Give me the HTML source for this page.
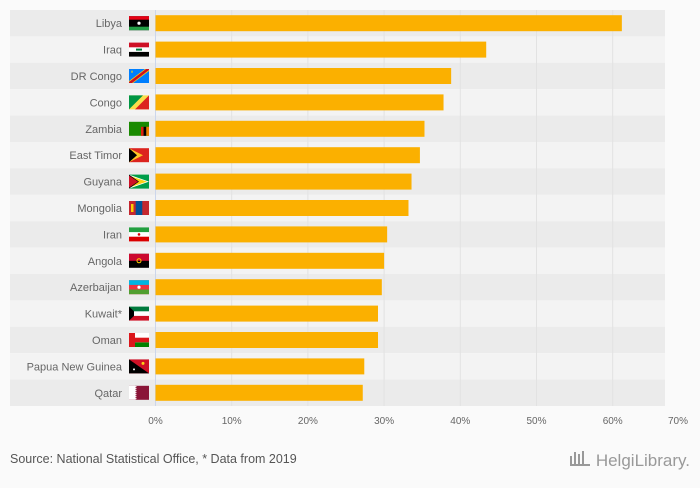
<!DOCTYPE html>
<html><head><meta charset="utf-8"><style>
body{margin:0;width:700px;height:483px;background:#fafafa;font-family:"Liberation Sans",sans-serif;overflow:hidden}
svg text{font-family:"Liberation Sans",sans-serif}
</style></head><body>
<svg id="chart" width="700" height="483" viewBox="0 0 700 483"></svg>
<script>
const countries=["Libya","Iraq","DR Congo","Congo","Zambia","East Timor","Guyana","Mongolia","Iran","Angola","Azerbaijan","Kuwait*","Oman","Papua New Guinea","Qatar"];
const values=[61.2,43.4,38.8,37.8,35.3,34.7,33.6,33.2,30.4,30.0,29.7,29.2,29.2,27.4,27.2];
const ticks=[0,10,20,30,40,50,60,70];
const NS="http://www.w3.org/2000/svg";
const svg=document.getElementById('chart');
const x0=155.5, perUnit=7.62, y0=10, rowH=26.4, barH=16;
const xs=v=>x0+v*perUnit;
const ys=i=>y0+i*rowH;
function el(t,a,p){const e=document.createElementNS(NS,t);for(const k in a)e.setAttribute(k,a[k]);(p||svg).appendChild(e);return e;}
countries.forEach((c,i)=>{
 const b=el('rect',{x:10,y:ys(i),width:655,height:rowH,fill:i%2?'#f3f3f3':'#ebebeb'});
 
 
});
ticks.forEach((t,i)=>{
 if(t>0 && xs(t)<668){const g=el('line',{x1:xs(t),x2:xs(t),y1:y0,y2:y0+rowH*15,stroke:'#e2e2e2','stroke-width':1});
 
 }
 const lx=t===70?678:xs(t);
 const tx=el('text',{x:lx,y:424,'text-anchor':'middle','font-size':10,fill:'#666'});
 tx.textContent=t+'%';
 
 
});
const ax=el('line',{x1:x0,x2:x0,y1:y0,y2:y0+rowH*15,stroke:'#ccd6eb','stroke-width':1});


const flags={
"Libya":'<rect width="20" height="14" fill="#000"/><rect width="20" height="3.5" fill="#e70013"/><rect y="10.5" width="20" height="3.5" fill="#239e46"/><circle cx="10" cy="7" r="1.6" fill="#fff"/>',
"Iraq":'<rect width="20" height="14" fill="#fff"/><rect width="20" height="4.7" fill="#ce1126"/><rect y="9.3" width="20" height="4.7" fill="#000"/><rect x="7" y="6" width="6" height="2" fill="#007a3d"/>',
"DR Congo":'<rect width="20" height="14" fill="#007fff"/><polygon points="0,12 16,0 20,0 20,2 4,14 0,14" fill="#f7d618"/><polygon points="0,13 17,0 20,0 20,1 3,14 0,14" fill="#ce1021"/><polygon points="3,1 4,3.5 2,3.5" fill="#f7d618"/>',
"Congo":'<rect width="20" height="14" fill="#fbde4a"/><polygon points="0,0 14,0 0,14" fill="#009543"/><polygon points="20,0 20,14 6,14" fill="#dc241f"/>',
"Zambia":'<rect width="20" height="14" fill="#198a00"/><rect x="12" y="5" width="2.6" height="9" fill="#de2010"/><rect x="14.6" y="5" width="2.7" height="9" fill="#000"/><rect x="17.3" y="5" width="2.7" height="9" fill="#ef7d00"/>',
"East Timor":'<rect width="20" height="14" fill="#dc241f"/><polygon points="0,0 14,7 0,14" fill="#ffc726"/><polygon points="0,0 8,7 0,14" fill="#000"/>',
"Guyana":'<rect width="20" height="14" fill="#009e49"/><polygon points="0,0 20,7 0,14" fill="#fff"/><polygon points="0,1 18,7 0,13" fill="#fcd116"/><polygon points="0,0 10,7 0,14" fill="#000"/><polygon points="0,1 9,7 0,13" fill="#ce1126"/>',
"Mongolia":'<rect width="20" height="14" fill="#c4272f"/><rect x="6.7" width="6.6" height="14" fill="#015197"/><rect x="2" y="3" width="2.5" height="8" fill="#f9cf02"/>',
"Iran":'<rect width="20" height="14" fill="#fff"/><rect width="20" height="4.7" fill="#239f40"/><rect y="9.3" width="20" height="4.7" fill="#da0000"/><circle cx="10" cy="7" r="1.3" fill="#da0000"/>',
"Angola":'<rect width="20" height="14" fill="#000"/><rect width="20" height="7" fill="#cc092f"/><circle cx="10" cy="7" r="2" fill="none" stroke="#ffcb00"/>',
"Azerbaijan":'<rect width="20" height="14" fill="#ef3340"/><rect width="20" height="4.7" fill="#00b5e2"/><rect y="9.3" width="20" height="4.7" fill="#509e2f"/><circle cx="10" cy="7" r="1.6" fill="#fff"/>',
"Kuwait*":'<rect width="20" height="14" fill="#fff"/><rect width="20" height="4.7" fill="#007a3d"/><rect y="9.3" width="20" height="4.7" fill="#ce1126"/><polygon points="0,0 5,4.7 5,9.3 0,14" fill="#000"/>',
"Oman":'<rect width="20" height="14" fill="#fff"/><rect y="9.3" width="20" height="4.7" fill="#008000"/><rect y="4.7" width="20" height="4.6" fill="#db161b"/><rect width="6" height="14" fill="#db161b"/>',
"Papua New Guinea":'<rect width="20" height="14" fill="#ce1126"/><polygon points="0,0 20,14 0,14" fill="#000"/><circle cx="5" cy="10" r="1" fill="#fff"/><circle cx="14" cy="4" r="1.5" fill="#fcd116"/>',
"Qatar":'<rect width="20" height="14" fill="#8a1538"/><polygon points="0,0 6,0 8,1 6,2 8,3 6,4 8,5 6,6 8,7 6,8 8,9 6,10 8,11 6,12 8,13 6,14 0,14" fill="#fff"/>'
};
countries.forEach((c,i)=>{
 const cy=ys(i)+rowH/2;
 const t=el('text',{x:122,y:cy+4,'text-anchor':'end','font-size':11,fill:'#666'});
 t.textContent=c;
 
 
 const g=el('g',{transform:`translate(129,${cy-7})`});
 g.innerHTML=flags[c];
 
 
 const b=el('rect',{x:x0,y:cy-barH/2,width:xs(values[i])-x0,height:barH,fill:'#fbb000'});
 
 
});
const src=el('text',{x:10,y:463,'font-size':12.5,fill:'#555'});
src.textContent='Source: National Statistical Office, * Data from 2019';


const logo=el('text',{x:690,y:466,'text-anchor':'end','font-size':17,fill:'#999','font-family':'Liberation Serif'});
logo.textContent='HelgiLibrary.';


const li=el('g',{transform:'translate(570,450)'});
li.innerHTML='<rect x="0" y="6" width="2" height="10" fill="#999"/><rect x="4" y="2" width="2" height="14" fill="#999"/><rect x="8" y="4" width="2" height="12" fill="#999"/><rect x="12" y="1" width="2" height="15" fill="#999"/><rect x="0" y="14" width="20" height="2" fill="#999"/>';


</script>
</body></html>
